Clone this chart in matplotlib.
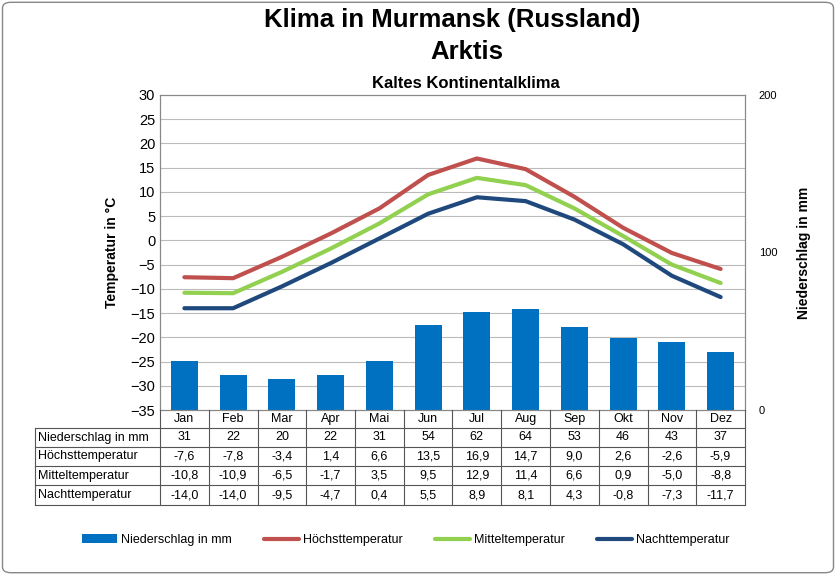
import matplotlib.pyplot as plt
import numpy as np
from matplotlib.patches import FancyBboxPatch

plt.rcParams["font.family"] = "Liberation Sans"

months = ["Jan", "Feb", "Mar", "Apr", "Mai", "Jun", "Jul", "Aug", "Sep", "Okt", "Nov", "Dez"]
niederschlag = [31, 22, 20, 22, 31, 54, 62, 64, 53, 46, 43, 37]
hoechst = [-7.6, -7.8, -3.4, 1.4, 6.6, 13.5, 16.9, 14.7, 9.0, 2.6, -2.6, -5.9]
mittel = [-10.8, -10.9, -6.5, -1.7, 3.5, 9.5, 12.9, 11.4, 6.6, 0.9, -5.0, -8.8]
nacht = [-14.0, -14.0, -9.5, -4.7, 0.4, 5.5, 8.9, 8.1, 4.3, -0.8, -7.3, -11.7]
row_names = ["Niederschlag in mm", "Höchsttemperatur", "Mitteltemperatur", "Nachttemperatur"]

W, H = 836, 575
fig = plt.figure(figsize=(W / 100, H / 100), dpi=100)
fig.patches.append(FancyBboxPatch((0.003, 0.004), 0.994, 0.992, boxstyle="round,pad=0,rounding_size=0.01",
                                  transform=fig.transFigure, fill=False, ec="#888888", lw=1))

x0, x1, y0, y1 = 160, 745, 95, 410
ax = fig.add_axes([x0 / W, 1 - y1 / H, (x1 - x0) / W, (y1 - y0) / H])
ax2 = ax.twinx()
x = np.arange(12)

t_lo, t_hi = -35, 30
p_hi = 200
ax2.bar(x, niederschlag, width=0.55, color="#0070C0", label="Niederschlag in mm", zorder=2)
ax2.set_ylim(0, p_hi)
ax2.set_yticks([0, 100, 200])
# gridlines of the temperature axis, drawn behind the bars
ax2.set_yticks([(t - t_lo) / (t_hi - t_lo) * p_hi for t in range(t_lo, t_hi + 1, 5)], minor=True)
ax2.grid(axis="y", which="minor", color="#BBBBBB", lw=0.8, zorder=0)
ax2.set_axisbelow(True)
ax2.tick_params(axis="y", which="minor", length=0)
ax2.tick_params(axis="y", labelsize=8, length=0, pad=10)
ax2.set_ylabel("Niederschlag in mm", fontsize=10, fontweight="bold", labelpad=14)

ax.set_zorder(ax2.get_zorder() + 1)
ax.patch.set_visible(False)
ax.plot(x, hoechst, color="#C0504D", lw=3, label="Höchsttemperatur", solid_capstyle="round")
ax.plot(x, mittel, color="#92D050", lw=3, label="Mitteltemperatur", solid_capstyle="round")
ax.plot(x, nacht, color="#1F497D", lw=3, label="Nachttemperatur", solid_capstyle="round")
ax.set_ylim(t_lo, t_hi)
ax.set_yticks(range(t_lo, t_hi + 1, 5))
ax.set_xlim(-0.5, 11.5)
ax.set_xticks([])
ax.tick_params(axis="y", labelsize=10.5, length=0)
ax2.set_xticks([])
ax.set_ylabel("Temperatur in °C", fontsize=10, fontweight="bold", labelpad=8)
for a in (ax, ax2):
    for s in a.spines.values():
        s.set_color("#888888")

# data table below the plot (pixel coords -> figure coords)
def fx(px):
    return px / W

def fy(py):
    return 1 - py / H

cw = (x1 - x0) / 12
rows_y = [428, 447, 466, 485, 505]
lc = "#555555"
for i in range(13):
    fig.add_artist(plt.Line2D([fx(x0 + i * cw)] * 2, [fy(y1), fy(505)], color=lc, lw=0.8))
fig.add_artist(plt.Line2D([fx(35)] * 2, [fy(428), fy(505)], color=lc, lw=0.8))
for ry in rows_y:
    fig.add_artist(plt.Line2D([fx(35), fx(x1)], [fy(ry)] * 2, color=lc, lw=0.8))
for i, m in enumerate(months):
    fig.text(fx(x0 + (i + 0.5) * cw), fy(419), m, ha="center", va="center", fontsize=9)
data_rows = [niederschlag, hoechst, mittel, nacht]
for r, (name, vals) in enumerate(zip(row_names, data_rows)):
    yc = fy((rows_y[r] + rows_y[r + 1]) / 2)
    fig.text(fx(38), yc, name, ha="left", va="center", fontsize=9)
    for i, v in enumerate(vals):
        s = str(v) if r == 0 else f"{v:.1f}".replace(".", ",")
        fig.text(fx(x0 + (i + 0.5) * cw), yc, s, ha="center", va="center", fontsize=9)

fig.text(fx(452), fy(20), "Klima in Murmansk (Russland)", ha="center", va="center", fontsize=18.5, fontweight="bold")
fig.text(fx(467), fy(52), "Arktis", ha="center", va="center", fontsize=18.5, fontweight="bold")
fig.text(fx(466), fy(83), "Kaltes Kontinentalklima", ha="center", va="center", fontsize=12, fontweight="bold")

h1, l1 = ax2.get_legend_handles_labels()
h2, l2 = ax.get_legend_handles_labels()
fig.legend(h1 + h2, l1 + l2, loc="center", bbox_to_anchor=(0.485, fy(540)), ncol=4, frameon=False,
           fontsize=9, handlelength=2.8, columnspacing=2.6, handletextpad=0.3)

fig.savefig("out.png", dpi=100)
